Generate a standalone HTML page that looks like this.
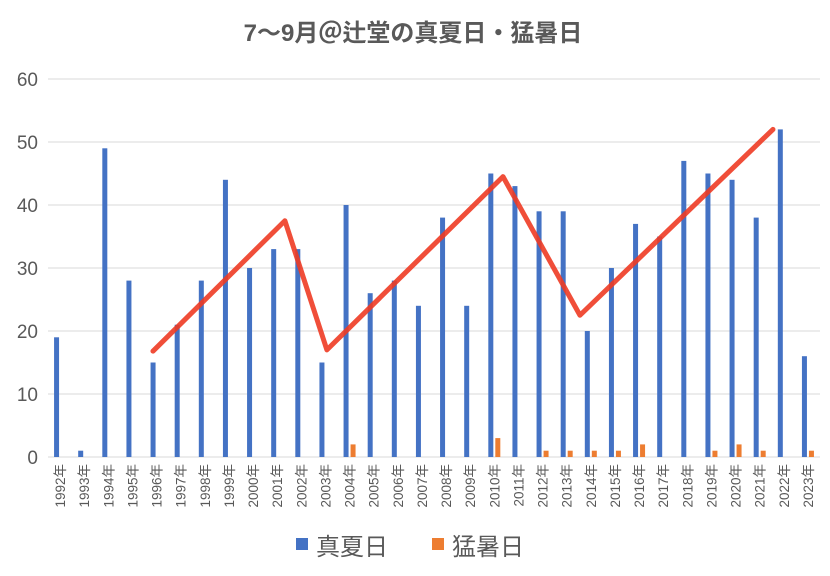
<!DOCTYPE html>
<html><head><meta charset="utf-8"><style>
body{margin:0;background:#fff;font-family:"Liberation Sans","Noto Sans CJK JP",sans-serif}
</style></head><body>
<svg id="c" width="830" height="571" xmlns="http://www.w3.org/2000/svg"></svg>
<script>
const years=["1992","1993","1994","1995","1996","1997","1998","1999","2000","2001","2002","2003","2004","2005","2006","2007","2008","2009","2010","2011","2012","2013","2014","2015","2016","2017","2018","2019","2020","2021","2022","2023"];
const manatsubi=[19,1,49,28,15,21,28,44,30,33,33,15,40,26,28,24,38,24,45,43,39,39,20,30,37,35,47,45,44,38,52,16];
const moshobi=[0,0,0,0,0,0,0,0,0,0,0,0,2,0,0,0,0,0,3,0,1,1,1,1,2,0,0,1,2,1,0,1];
const yTicks=[0,10,20,30,40,50,60];
// hand-drawn trend annotation: [category index, value]
const trendIdx=[3.85,9.32,11.06,18.36,21.55,29.55];
const trendVal=[16.8,37.5,17,44.5,22.5,52];
const svg=document.getElementById('c');const NS="http://www.w3.org/2000/svg";
const L=48,R=820,T=79,B=457,step=(R-L)/years.length;
const y=v=>B-(B-T)*v/60;const xc=i=>L+step*(i+0.5);
function el(t,a,p){const e=document.createElementNS(NS,t);for(const k in a)e.setAttribute(k,a[k]);(p||svg).appendChild(e);return e;}
const title=el('text',{x:413,y:41,'text-anchor':'middle','font-size':24,'font-weight':'bold',fill:'#595959'});title.textContent="7〜9月＠辻堂の真夏日・猛暑日";


yTicks.forEach(v=>{const g=el('line',{x1:L,x2:R,y1:y(v),y2:y(v),stroke:'#d9d9d9','stroke-width':1});


const t=el('text',{x:38,y:y(v)+7,'text-anchor':'end','font-size':19,fill:'#595959'});t.textContent=v;

});
years.forEach((yr,i)=>{
const b=el('rect',{x:xc(i)-6,y:y(manatsubi[i]),width:5,height:B-y(manatsubi[i]),fill:'#4472c4'});


if(moshobi[i]>0){const o=el('rect',{x:xc(i)+1,y:y(moshobi[i]),width:5,height:B-y(moshobi[i]),fill:'#ed7d31'});

}
const t=el('text',{transform:`translate(${xc(i)+5},464) rotate(-90)`,'text-anchor':'end','font-size':13.5,fill:'#595959'});t.textContent=yr+"年";

});
const pts=trendIdx.map((c,k)=>`${xc(c)},${y(trendVal[k])}`).join(' ');
const pl=el('polyline',{points:pts,fill:'none',stroke:'#ee3b24','stroke-width':5,'stroke-linejoin':'round','stroke-linecap':'round',opacity:0.9});


const lg=el('g',{});


el('rect',{x:296,y:538,width:12,height:12,fill:'#4472c4'},lg);
const t1=el('text',{x:316,y:555,'font-size':24,fill:'#595959'},lg);t1.textContent="真夏日";
el('rect',{x:432,y:538,width:12,height:12,fill:'#ed7d31'},lg);
const t2=el('text',{x:452,y:555,'font-size':24,fill:'#595959'},lg);t2.textContent="猛暑日";
</script></body></html>
